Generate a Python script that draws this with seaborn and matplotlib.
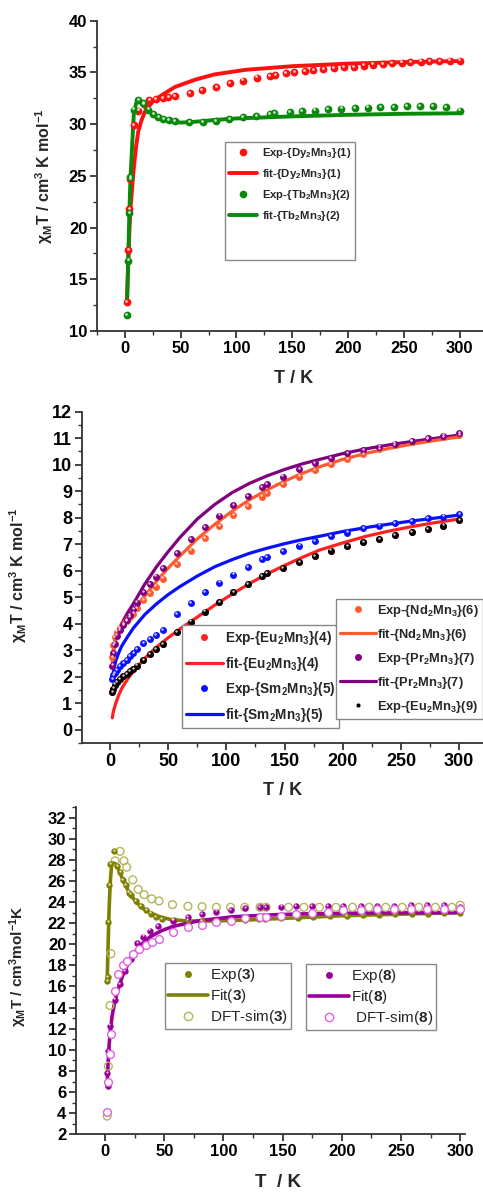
import numpy as np
import pandas as pd
import matplotlib
matplotlib.use("Agg")
import matplotlib.pyplot as plt
import seaborn as sns
from matplotlib.lines import Line2D
from matplotlib.ticker import MultipleLocator
from matplotlib.transforms import ScaledTranslation

# ---------------- data: panel 1 ----------------
T_dy_exp = [1.8, 3, 4, 5, 8, 12, 17, 22, 28, 34, 39, 45, 58, 69, 82, 94, 106, 118, 130, 135, 144,
            152, 161, 169, 178, 187, 196, 205, 214, 222, 231, 239, 248, 256, 265, 273, 282, 291, 300]
chi_dy_exp = [12.8, 17.8, 21.8, 24.7, 29.9, 31.3, 31.9, 32.3, 32.4, 32.5, 32.6, 32.7, 33.0, 33.3, 33.6,
              34.0, 34.2, 34.5, 34.65, 34.75, 34.9, 35.05, 35.15, 35.25, 35.3, 35.4, 35.5, 35.55, 35.65,
              35.75, 35.8, 35.9, 35.95, 36.0, 36.04, 36.08, 36.1, 36.14, 36.15]
T_dy_fit = [1.8, 3, 4, 5, 7.5, 10, 12, 15, 18, 25, 33, 45, 63, 80, 108, 150, 200, 250, 300]
chi_dy_fit = [12.8, 16.5, 19.5, 21.8, 25.2, 27.8, 29.3, 30.4, 31.2, 32.2, 32.8, 33.6, 34.3, 34.8,
              35.25, 35.6, 35.85, 36.0, 36.1]
T_tb_exp = [2, 3, 4, 5, 8, 12, 16.5, 21, 25.5, 30, 34.5, 39.5, 45, 57.7, 69.7, 81.7, 93.6, 105.6,
            117.8, 129.8, 134, 148, 158.6, 170, 182, 194, 206, 217.6, 229, 241, 253, 264.5, 276, 288, 300]
chi_tb_exp = [11.55, 16.8, 21.4, 24.9, 31.4, 32.3, 32.0, 31.4, 31.0, 30.7, 30.5, 30.4, 30.3, 30.2,
              30.2, 30.3, 30.5, 30.7, 30.8, 31.0, 31.05, 31.2, 31.27, 31.3, 31.43, 31.5, 31.56, 31.6,
              31.63, 31.68, 31.72, 31.72, 31.78, 31.63, 31.3]
T_tb_fit = [2, 3, 4, 5, 7, 8, 10, 12, 15, 20, 25, 30, 40, 50, 60, 80, 100, 150, 200, 250, 300]
chi_tb_fit = [13.0, 17.0, 21.4, 24.8, 29.0, 31.0, 32.0, 32.3, 32.0, 31.4, 30.9, 30.6, 30.3, 30.15,
              30.2, 30.4, 30.55, 30.75, 30.9, 31.0, 31.05]

# ---------------- data: panel 2 ----------------
T2_exp = [2, 3, 4.3, 5.7, 8.6, 11.5, 14.3, 17.2, 20, 22.9, 28.6, 34.4, 39.5, 45.2, 57.3, 69.6, 81.6,
          93.9, 106, 118.2, 130.3, 135, 148.8, 162.6, 176, 189.8, 203.8, 217.6, 231.3, 244.8, 259,
          272.8, 286.3, 300]
chi_pr_exp = [2.42, 2.89, 3.25, 3.55, 3.77, 3.95, 4.15, 4.33, 4.55, 4.8, 5.18, 5.5, 5.78, 6.09, 6.66,
              7.19, 7.66, 8.08, 8.47, 8.82, 9.15, 9.27, 9.55, 9.83, 10.05, 10.24, 10.43, 10.55, 10.68,
              10.8, 10.9, 11.0, 11.1, 11.18]
chi_nd_exp = [2.75, 3.2, 3.5, 3.7, 3.85, 3.98, 4.1, 4.25, 4.38, 4.6, 4.9, 5.15, 5.4, 5.7, 6.26, 6.76,
              7.23, 7.69, 8.09, 8.44, 8.8, 8.92, 9.26, 9.55, 9.8, 10.03, 10.22, 10.4, 10.58, 10.74,
              10.87, 10.97, 11.05, 11.12]
chi_sm_exp = [1.91, 2.05, 2.15, 2.26, 2.4, 2.52, 2.64, 2.79, 2.9, 3.05, 3.27, 3.42, 3.58, 3.77, 4.36,
              4.78, 5.18, 5.55, 5.85, 6.13, 6.43, 6.51, 6.75, 6.95, 7.12, 7.31, 7.44, 7.6, 7.7, 7.79,
              7.88, 7.98, 8.04, 8.13]
chi_eu9_exp = [1.41, 1.55, 1.7, 1.8, 1.9, 2.01, 2.1, 2.2, 2.3, 2.42, 2.64, 2.85, 3.04, 3.23, 3.68,
               4.08, 4.46, 4.82, 5.18, 5.49, 5.8, 5.9, 6.09, 6.32, 6.56, 6.76, 6.94, 7.07, 7.2, 7.35,
               7.46, 7.56, 7.7, 7.92]
chi_eu4_exp = [1.41, 1.55, 1.7, 1.8, 1.9, 2.01, 2.1, 2.2, 2.3, 2.42, 2.64, 2.85, 3.04, 3.23, 3.68,
               4.08, 4.46, 4.82, 5.18, 5.49, 5.8, 5.9, 6.09, 6.32, 6.56, 6.76, 6.94, 7.07, 7.2, 7.35,
               7.46, 7.56, 7.7, 7.92]
T2_fit = [2, 3, 5, 7.5, 10, 15, 20, 30, 40, 50, 60, 75, 90, 105, 120, 135, 150, 165, 180, 200, 220,
          240, 260, 280, 300]
chi_pr_fit = [2.4, 2.95, 3.4, 3.75, 4.0, 4.4, 4.75, 5.5, 6.15, 6.72, 7.25, 7.95, 8.5, 8.95, 9.3,
              9.58, 9.82, 10.03, 10.2, 10.42, 10.6, 10.75, 10.88, 11.0, 11.12]
chi_nd_fit = [2.6, 3.1, 3.55, 3.8, 3.95, 4.25, 4.5, 5.05, 5.6, 6.1, 6.55, 7.2, 7.75, 8.25, 8.68,
              9.05, 9.38, 9.67, 9.92, 10.2, 10.43, 10.62, 10.78, 10.92, 11.05]
chi_eu_fit = [0.45, 0.7, 1.0, 1.3, 1.55, 1.9, 2.2, 2.7, 3.12, 3.47, 3.8, 4.25, 4.7, 5.12, 5.52,
              5.88, 6.2, 6.5, 6.78, 7.05, 7.3, 7.5, 7.67, 7.82, 7.95]
chi_sm_fit = [1.95, 2.2, 2.6, 2.9, 3.15, 3.5, 3.83, 4.35, 4.75, 5.1, 5.4, 5.8, 6.15, 6.42, 6.66,
              6.85, 7.02, 7.17, 7.3, 7.48, 7.63, 7.76, 7.88, 7.99, 8.1]

# ---------------- data: panel 3 ----------------
T3_exp3 = [2, 2.4, 2.8, 3.7, 4.5, 7.9, 10.5, 13, 15, 17.7, 20, 22, 26, 30, 35, 39, 43, 48, 58, 70,
           82, 94, 106, 118, 130, 135, 149, 163, 176, 190, 204, 218, 231, 245, 259, 273, 286, 300]
chi_exp3 = [16.5, 16.9, 22.1, 25.6, 27.6, 28.8, 27.4, 26.8, 26.1, 25.6, 24.9, 24.7, 24.1, 23.6,
            23.2, 22.9, 22.6, 22.4, 22.3, 22.25, 22.2, 22.2, 22.2, 22.3, 22.35, 22.4, 22.45, 22.5,
            22.6, 22.65, 22.7, 22.75, 22.8, 22.85, 22.9, 22.9, 22.95, 23.0]
T3_exp8 = [2, 2.3, 2.8, 4.2, 8.5, 12.7, 17, 21.7, 27.3, 32.4, 38, 44.5, 57, 70, 82, 94, 106, 118.6,
           131, 136, 149, 161.4, 174.6, 188, 201, 216, 230, 243.7, 258, 272, 286, 300]
chi_exp8 = [7.76, 6.6, 9.9, 12.3, 14.75, 16.2, 17.45, 18.6, 20.1, 20.73, 21.3, 21.7, 22.24, 22.55,
            22.87, 23.1, 23.25, 23.4, 23.5, 23.5, 23.56, 23.6, 23.6, 23.65, 23.65, 23.65, 23.65,
            23.65, 23.7, 23.7, 23.7, 23.55]
T3_dft3 = [1.8, 2.8, 4.2, 5, 8.5, 12.7, 16, 18.3, 23.4, 28, 33, 39.4, 45.6, 57, 70, 82, 94, 106,
           118, 131, 136, 155, 168, 181, 195, 209, 223, 237, 251, 265, 279, 293, 300]
chi_dft3 = [3.73, 8.45, 14.2, 19.1, 27.9, 28.8, 27.9, 27.3, 26.1, 25.2, 24.7, 24.3, 24.1, 23.75,
            23.6, 23.56, 23.5, 23.5, 23.5, 23.5, 23.5, 23.5, 23.5, 23.5, 23.5, 23.5, 23.5, 23.5,
            23.5, 23.5, 23.5, 23.5, 23.7]
T3_dft8 = [1.8, 2.8, 4.2, 5, 8.5, 11.3, 15.5, 18.3, 23.4, 29, 34.4, 39.4, 45.6, 57, 70, 82, 94,
           106.5, 118.6, 131, 136, 149, 161.4, 174.6, 188, 201, 216, 230, 243.7, 258, 272, 286, 300]
chi_dft8 = [4.14, 7.0, 9.65, 11.5, 15.6, 17.2, 18.0, 18.4, 19.1, 19.56, 19.94, 20.26, 20.54,
            21.14, 21.6, 21.83, 22.08, 22.24, 22.46, 22.55, 22.55, 22.7, 22.87, 22.96, 23.1, 23.2,
            23.25, 23.3, 23.35, 23.35, 23.37, 23.37, 23.35]
T3_fit3 = [1.8, 2.5, 3.5, 4.5, 5.5, 7, 9, 11, 14, 18, 22, 27, 32, 38, 45, 55, 70, 90, 120, 160,
           200, 250, 300]
chi_fit3 = [16.4, 19.5, 23.5, 26.0, 27.4, 27.7, 27.6, 27.2, 26.4, 25.4, 24.6, 23.9, 23.4, 23.0,
            22.65, 22.35, 22.2, 22.2, 22.3, 22.5, 22.7, 22.85, 23.0]
T3_fit8 = [1.8, 2.5, 3.5, 4.5, 6, 8.5, 12, 15.5, 20, 24, 30, 38, 48, 57.7, 70, 80, 108, 140, 165,
           200, 221, 260, 300]
chi_fit8 = [6.56, 8.5, 10.5, 11.8, 13.2, 14.7, 16.1, 17.2, 18.3, 19.1, 19.9, 20.7, 21.3, 21.7,
            22.0, 22.24, 22.6, 22.78, 22.87, 22.93, 22.96, 22.98, 23.0]

# ---------------- style ----------------
sns.set_style("ticks")
plt.rcParams["font.family"] = ["Liberation Sans", "DejaVu Sans"]
plt.rcParams["font.weight"] = "bold"
plt.rcParams["mathtext.default"] = "regular"
plt.rcParams["mathtext.fontset"] = "custom"
plt.rcParams["mathtext.rm"] = "Liberation Sans"
plt.rcParams["mathtext.bf"] = "Liberation Sans:bold"
plt.rcParams["mathtext.it"] = "Liberation Sans:italic"

W, H = 483, 1194
fig = plt.figure(figsize=(W / 100, H / 100), dpi=100)


def px_axes(left, top, right, bottom):
    return fig.add_axes([left / W, 1 - bottom / H, (right - left) / W, (bottom - top) / H])


def fit(ax, x, y, color, lw):
    sns.lineplot(x=x, y=y, ax=ax, color=color, lw=lw, estimator=None, sort=False, zorder=2)


def balls(ax, x, y, color, ms, hl=True):
    sns.scatterplot(x=x, y=y, ax=ax, color=color, s=ms ** 2, linewidth=0, zorder=3)
    if hl:
        off = ScaledTranslation(-0.007, 0.012, fig.dpi_scale_trans)
        ax.plot(x, y, ls="none", marker="o", ms=ms * 0.35, color="white", alpha=0.8,
                markeredgewidth=0, transform=ax.transData + off, zorder=4)


def style_axes(ax, xlim, ylim, ymaj, ymin, fs):
    ax.set_xlim(*xlim)
    ax.set_ylim(*ylim)
    ax.xaxis.set_major_locator(MultipleLocator(50))
    ax.xaxis.set_minor_locator(MultipleLocator(25))
    ax.yaxis.set_major_locator(MultipleLocator(ymaj))
    ax.yaxis.set_minor_locator(MultipleLocator(ymin))
    for s in ["top", "right"]:
        ax.spines[s].set_visible(False)
    for s in ["left", "bottom"]:
        ax.spines[s].set_linewidth(1.3)
        ax.spines[s].set_color("#333333")
    ax.tick_params(which="major", direction="out", length=5, width=1.2, labelsize=fs, pad=2,
                   colors="#222222")
    ax.tick_params(which="minor", direction="out", length=3, width=1.0, colors="#333333")
    ax.set_xticks([0, 50, 100, 150, 200, 250, 300])
    for lab in ax.get_xticklabels() + ax.get_yticklabels():
        lab.set_fontweight("bold")
        lab.set_color("black")


def dot_handle(color, ms, mfc=None):
    return Line2D([], [], ls="none", marker="o", ms=ms, color=color,
                  markerfacecolor=mfc if mfc else color, markeredgewidth=1.0 if mfc else 0)


def line_handle(color, lw):
    return Line2D([], [], color=color, lw=lw)


# ================= panel 1 =================
ax1 = px_axes(97, 20.7, 483, 331)
c_red1, c_grn1 = "#FF1010", "#0A8A0A"
fit(ax1, T_dy_fit, chi_dy_fit, c_red1, 2.8)
fit(ax1, T_tb_fit, chi_tb_fit, c_grn1, 2.8)
balls(ax1, T_dy_exp, chi_dy_exp, c_red1, 5.6)
balls(ax1, T_tb_exp, chi_tb_exp, c_grn1, 5.6)
style_axes(ax1, (-25, 321), (10, 40), 5, 2.5, 12)
ax1.set_xlabel("T / K", fontsize=13, fontweight="bold")
ax1.set_ylabel(r"χ$_M$T / cm$^3$ K mol$^{-1}$", fontsize=11.5, fontweight="bold")
ax1.xaxis.set_label_coords(0.508, -0.125)
ax1.yaxis.set_label_coords(-0.108, 0.498)
blank = Line2D([], [], alpha=0)
leg1 = ax1.legend(
    [dot_handle(c_red1, 5.5), line_handle(c_red1, 2.8), dot_handle(c_grn1, 5.5), line_handle(c_grn1, 2.8), blank, blank],
    [r"Exp-{Dy$_2$Mn$_3$}(1)", r"fit-{Dy$_2$Mn$_3$}(1)", r"Exp-{Tb$_2$Mn$_3$}(2)", r"fit-{Tb$_2$Mn$_3$}(2)", " ", " "],
    loc="upper left", bbox_to_anchor=(0.3316, 0.609), borderaxespad=0, fancybox=False,
    edgecolor="#888888", framealpha=1, prop={"size": 8.2, "weight": "bold"},
    handlelength=2.5, handletextpad=0.4, labelspacing=0.6, borderpad=0.35)
leg1.get_frame().set_linewidth(1.0)

# ================= panel 2 =================
ax2 = px_axes(82, 411.7, 483, 743)
c_eu, c_sm, c_nd, c_pr, c_bk = "#FF2020", "#0A10FF", "#FF5A2E", "#800080", "#000000"
fit(ax2, T2_fit, chi_pr_fit, c_pr, 2.3)
fit(ax2, T2_fit, chi_nd_fit, c_nd, 2.3)
fit(ax2, T2_fit, chi_sm_fit, c_sm, 2.3)
fit(ax2, T2_fit, chi_eu_fit, c_eu, 2.3)
balls(ax2, T2_exp, chi_eu4_exp, c_eu, 5.0, hl=False)
balls(ax2, T2_exp, chi_nd_exp, c_nd, 5.0)
balls(ax2, T2_exp, chi_pr_exp, c_pr, 5.0)
balls(ax2, T2_exp, chi_sm_exp, c_sm, 5.0)
balls(ax2, T2_exp, chi_eu9_exp, c_bk, 5.0)
style_axes(ax2, (-24, 320.4), (-0.5, 12), 1, 0.5, 13)
ax2.set_xlabel("T / K", fontsize=13, fontweight="bold")
ax2.set_ylabel(r"χ$_M$T / cm$^3$ K mol$^{-1}$", fontsize=11.5, fontweight="bold")
ax2.xaxis.set_label_coords(0.501, -0.118)
ax2.yaxis.set_label_coords(-0.132, 0.507)
leg2a = ax2.legend(
    [dot_handle(c_eu, 5), line_handle(c_eu, 2.3), dot_handle(c_sm, 5), line_handle(c_sm, 2.3)],
    [r"Exp-{Eu$_2$Mn$_3$}(4)", r"fit-{Eu$_2$Mn$_3$}(4)", r"Exp-{Sm$_2$Mn$_3$}(5)", r"fit-{Sm$_2$Mn$_3$}(5)"],
    loc="upper left", bbox_to_anchor=(0.249, 0.356), borderaxespad=0, fancybox=False,
    edgecolor="#888888", framealpha=1, prop={"size": 9.8, "weight": "bold"},
    handlelength=2.7, handletextpad=0.15, labelspacing=0.55, borderpad=0.3)
leg2a.get_frame().set_linewidth(1.0)
ax2.add_artist(leg2a)
leg2b = ax2.legend(
    [dot_handle(c_nd, 5), line_handle(c_nd, 2.3), dot_handle(c_pr, 5), line_handle(c_pr, 2.3), dot_handle(c_bk, 3)],
    [r"Exp-{Nd$_2$Mn$_3$}(6)", r"fit-{Nd$_2$Mn$_3$}(6)", r"Exp-{Pr$_2$Mn$_3$}(7)", r"fit-{Pr$_2$Mn$_3$}(7)", r"Exp-{Eu$_2$Mn$_3$}(9)"],
    loc="upper left", bbox_to_anchor=(0.633, 0.435), borderaxespad=0, fancybox=False,
    edgecolor="#888888", framealpha=1, prop={"size": 9.3, "weight": "bold"},
    handlelength=2.8, handletextpad=0.1, labelspacing=0.62, borderpad=0.3)
leg2b.get_frame().set_linewidth(1.0)

# ================= panel 3 =================
ax3 = px_axes(76, 807, 465, 1134.3)
c_ol, c_mg = "#808000", "#990099"
c_ol_o, c_mg_o = "#B5B55A", "#E060E0"
fit(ax3, T3_fit3, chi_fit3, c_ol, 2.6)
fit(ax3, T3_fit8, chi_fit8, c_mg, 2.6)
sns.scatterplot(x=T3_dft3, y=chi_dft3, ax=ax3, marker="o", s=5.6 ** 2, facecolor="none",
                edgecolor=c_ol_o, linewidth=1.0, zorder=3)
balls(ax3, T3_exp3, chi_exp3, c_ol, 4.6)
balls(ax3, T3_exp8, chi_exp8, c_mg, 4.6)
sns.scatterplot(x=T3_dft8, y=chi_dft8, ax=ax3, marker="o", s=5.6 ** 2, facecolor="white",
                edgecolor=c_mg_o, linewidth=1.0, zorder=5)
style_axes(ax3, (-24.5, 304), (2, 33), 2, 1, 12)
ax3.set_xlabel("T  / K", fontsize=13.5, fontweight="bold")
ax3.set_ylabel(r"χ$_M$T / cm$^3$mol$^{-1}$K", fontsize=11, fontweight="bold")
ax3.xaxis.set_label_coords(0.519, -0.12)
ax3.yaxis.set_label_coords(-0.12, 0.514)
leg3a = ax3.legend(
    [dot_handle(c_ol, 5), line_handle(c_ol, 2.6), dot_handle(c_ol_o, 6, "none")],
    [r"Exp($\mathbf{3}$)", r"Fit($\mathbf{3}$)", r"DFT-sim($\mathbf{3}$)"],
    loc="upper left", bbox_to_anchor=(0.2288, 0.524), borderaxespad=0, fancybox=False,
    edgecolor="#888888", framealpha=1, prop={"size": 11, "weight": "normal"},
    handlelength=2.6, handletextpad=0.15, labelspacing=0.2, borderpad=0.2)
leg3a.get_frame().set_linewidth(1.0)
ax3.add_artist(leg3a)
leg3b = ax3.legend(
    [dot_handle(c_mg, 5), line_handle(c_mg, 2.6), dot_handle(c_mg_o, 6, "white")],
    [r"Exp($\mathbf{8}$)", r"Fit($\mathbf{8}$)", r" DFT-sim($\mathbf{8}$)"],
    loc="upper left", bbox_to_anchor=(0.591, 0.520), borderaxespad=0, fancybox=False,
    edgecolor="#888888", framealpha=1, prop={"size": 11, "weight": "normal"},
    handlelength=2.6, handletextpad=0.15, labelspacing=0.2, borderpad=0.2)
leg3b.get_frame().set_linewidth(1.0)

fig.savefig("out.png", dpi=100)
